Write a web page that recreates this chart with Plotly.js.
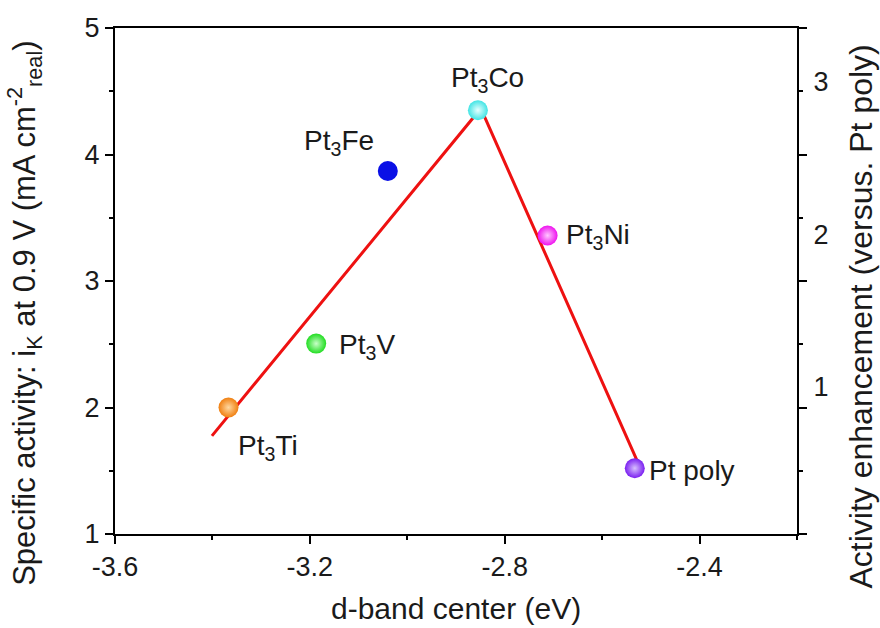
<!DOCTYPE html>
<html>
<head>
<meta charset="utf-8">
<script src="https://cdn.plot.ly/plotly-3.0.1.min.js"></script>
<style>html,body{margin:0;padding:0;background:#fff;}#chart{width:880px;height:628px;}</style>
</head>
<body>
<div id="chart"></div>
<script>
// Data
const alloys = ["Pt<sub>3</sub>Ti", "Pt<sub>3</sub>V", "Pt<sub>3</sub>Fe", "Pt<sub>3</sub>Co", "Pt<sub>3</sub>Ni", "Pt poly"];
const dBand = [-3.367, -3.187, -3.04, -2.855, -2.712, -2.533];
const activity = [2.0, 2.505, 3.87, 4.35, 3.36, 1.52];
const pointColors = ["#f07f10", "#22dd22", "#0a10e6", "#40e4e4", "#ee12ee", "#7a1ef0"];
const centerColors = ["#ffd8a0", "#c8ffc8", "#0a10e6", "#e8ffff", "#ffc8ff", "#d8c0ff"];
const trendX = [-3.401, -2.849, -2.526];
const trendY = [1.776, 4.364, 1.56];
const xTickVals = [-3.6, -3.2, -2.8, -2.4];
const xTickText = ["-3.6", "-3.2", "-2.8", "-2.4"];
const yTickVals = [1, 2, 3, 4, 5];
const rightTicks = [1, 2, 3];

// Label placement (offsets in pixels)
const labelPos = [
  {ax: 39, ay: 40, xanchor: "center"},
  {ax: 21, ay: 3, xanchor: "left"},
  {ax: -49, ay: -28, xanchor: "center"},
  {ax: 10, ay: -31, xanchor: "center"},
  {ax: 16, ay: 1, xanchor: "left"},
  {ax: 12, ay: 2, xanchor: "left"}
];

const FONT = "Liberation Sans, Arial, sans-serif";
const TXT = "#1a1a1a";

const traces = [
  {
    x: trendX, y: trendY, mode: "lines", type: "scatter",
    line: {color: "#ee1111", width: 3}, hoverinfo: "skip", showlegend: false
  },
  {
    x: dBand, y: activity, mode: "markers", type: "scatter", showlegend: false,
    marker: {size: 20, color: pointColors, line: {width: 0},
      gradient: {type: "radial", color: centerColors}}
  },
  {
    x: [dBand[0]], y: [activity[0]], yaxis: "y2", mode: "markers", type: "scatter",
    marker: {opacity: 0}, showlegend: false, hoverinfo: "skip"
  }
];

const annotations = alloys.map((t, i) => ({
  x: dBand[i], y: activity[i], xref: "x", yref: "y", text: t,
  showarrow: true, arrowcolor: "rgba(0,0,0,0)", arrowwidth: 0.1,
  ax: labelPos[i].ax, ay: labelPos[i].ay, xanchor: labelPos[i].xanchor, yanchor: "middle",
  font: {family: FONT, size: 28, color: TXT}
}));

annotations.push(
  {text: "Specific activity: i<sub>K</sub> at 0.9 V (mA cm<sup>-2</sup><sub>real</sub>)",
   xref: "paper", yref: "paper", x: -0.132, y: 0.437, xanchor: "center", yanchor: "middle",
   textangle: -90, showarrow: false, font: {family: FONT, size: 31, color: TXT}},
  {text: "Activity enhancement (versus. Pt poly)",
   xref: "paper", yref: "paper", x: 1.094, y: 0.43, xanchor: "center", yanchor: "middle",
   textangle: -90, showarrow: false, font: {family: FONT, size: 32, color: TXT}},
  {text: "d-band center (eV)",
   xref: "paper", yref: "paper", x: 0.5, y: -0.148, xanchor: "center", yanchor: "middle",
   showarrow: false, font: {family: FONT, size: 30, color: TXT}}
);

const layout = {
  width: 880, height: 628,
  margin: {l: 115, r: 83, t: 28, b: 94},
  paper_bgcolor: "#fff", plot_bgcolor: "#fff",
  font: {family: FONT, color: TXT, size: 28},
  showlegend: false,
  xaxis: {
    range: [-3.6, -2.2], tickmode: "array", tickvals: xTickVals, ticktext: xTickText,
    showgrid: false, zeroline: false,
    showline: true, linecolor: "#000", linewidth: 2, mirror: true,
    ticks: "outside", ticklen: 8, tickwidth: 2, tickcolor: "#000",
    minor: {tickmode: "linear", tick0: -3.6, dtick: 0.2, ticks: "outside", ticklen: 4, tickwidth: 2, tickcolor: "#000"},
    tickfont: {family: FONT, size: 27, color: TXT}
  },
  yaxis: {
    range: [1, 5], tickmode: "array", tickvals: yTickVals,
    showgrid: false, zeroline: false,
    showline: true, linecolor: "#000", linewidth: 2, mirror: "ticks",
    ticks: "outside", ticklen: 8, tickwidth: 2, tickcolor: "#000",
    minor: {tickmode: "linear", tick0: 1, dtick: 0.5, ticks: "outside", ticklen: 4, tickwidth: 2, tickcolor: "#000"},
    tickfont: {family: FONT, size: 27, color: TXT}
  },
  yaxis2: {
    overlaying: "y", side: "right",
    range: [0.036, 3.35], tickmode: "array", tickvals: rightTicks, ticktext: rightTicks.map(String),
    showgrid: false, zeroline: false, showline: false,
    ticks: "outside", ticklen: 10, tickcolor: "rgba(0,0,0,0)",
    tickfont: {family: FONT, size: 27, color: TXT}
  },
  annotations: annotations
};

Plotly.newPlot("chart", traces, layout, {displayModeBar: false, staticPlot: true});
</script>
</body>
</html>
